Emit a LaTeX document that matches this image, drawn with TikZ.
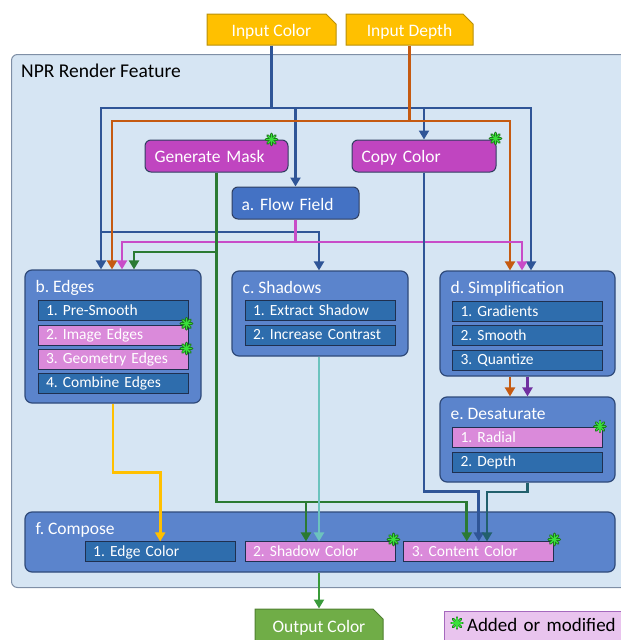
\documentclass[tikz,border=0pt]{standalone}
\usepackage{fontspec}
\setmainfont{Carlito}
\usetikzlibrary{arrows.meta,positioning,calc,shapes.misc}

\definecolor{srcfill}{HTML}{FFC000}
\definecolor{srcline}{HTML}{B8900A}
\definecolor{nprfill}{HTML}{D6E5F3}
\definecolor{nprline}{HTML}{7F8FA6}
\definecolor{passfill}{HTML}{C045C0}
\definecolor{passline}{HTML}{2F3E60}
\definecolor{flowfill}{HTML}{4472C4}
\definecolor{groupfill}{HTML}{5B84CC}
\definecolor{groupline}{HTML}{2F4A7A}
\definecolor{itemfill}{HTML}{2E6DAD}
\definecolor{itemline}{HTML}{1F3050}
\definecolor{modfill}{HTML}{DA8ADA}
\definecolor{outfill}{HTML}{70AD47}
\definecolor{outedge}{HTML}{4F7F30}
\definecolor{legfill}{HTML}{E9C4EE}
\definecolor{legline}{HTML}{A569BD}
\definecolor{wblue}{HTML}{2F5597}
\definecolor{worange}{HTML}{C55A11}
\definecolor{wmagenta}{HTML}{C84CC8}
\definecolor{wgreen}{HTML}{2B7A33}
\definecolor{wyellow}{HTML}{FFC000}
\definecolor{wteal}{HTML}{6CC3BE}
\definecolor{wdteal}{HTML}{22606C}
\definecolor{wpurple}{HTML}{7030A0}
\definecolor{wout}{HTML}{3A9B3A}
\definecolor{starfill}{HTML}{3AE03A}
\definecolor{starline}{HTML}{1E7A1E}

\tikzset{
frame/.style   = {draw=nprline, fill=nprfill, rounded corners=6pt, line width=1pt, minimum width=640pt, minimum height=533pt},
frametitle/.style = {anchor=base west, xshift=10pt, yshift=-23.3pt, inner sep=0pt, font=\fontsize{19.5}{23}\selectfont},
source/.style  = {chamfered rectangle, chamfered rectangle corners=north east, chamfered rectangle xsep=5pt, chamfered rectangle ysep=5pt, draw=srcline, fill=srcfill, line width=1pt, minimum height=31pt, text=white, text height=13pt, text depth=0pt, font=\fontsize{17.5}{21}\selectfont},
pass/.style    = {draw=passline, fill=passfill, rounded corners=6pt, line width=1pt, minimum height=32pt, inner xsep=9.5pt, align=left, text=white, text height=12.6pt, text depth=0pt, font=\fontsize{17.5}{21}\selectfont},
group/.style   = {draw=groupline, fill=groupfill, rounded corners=7pt, line width=1.2pt},
gtitle/.style  = {anchor=base west, xshift=11pt, yshift=-23.5pt, inner sep=0pt, text=white, font=\fontsize{17.5}{21}\selectfont},
item/.style    = {draw=itemline, fill=itemfill, rectangle, line width=.8pt, minimum width=150pt, minimum height=20pt, text width=134pt, inner xsep=8pt, inner ysep=0pt, align=left, text=white, text height=9.4pt, text depth=0pt, font=\fontsize{15.5}{18}\selectfont},
moditem/.style = {item, fill=modfill},
legend/.style  = {draw=legline, fill=legfill, line width=1pt, minimum width=200pt, minimum height=32pt, text width=170pt, inner xsep=22.5pt, align=left, text height=7.4pt, text depth=0pt, font=\fontsize{19}{23}\selectfont},
wire/.style    = {line width=2.8pt},
cwire/.style   = {wire, draw=wblue},
dwire/.style   = {wire, draw=worange},
fwire/.style   = {wire, draw=wmagenta},
mwire/.style   = {wire, draw=wgreen},
ywire/.style   = {wire, draw=wyellow},
swire/.style   = {wire, draw=wteal},
twire/.style   = {wire, draw=wdteal},
pwire/.style   = {wire, draw=wpurple},
owire/.style   = {wire, draw=wout},
modstar/.pic   = {
  \foreach \a in {0,45,90,135} \draw[line width=2.8pt, starline, line cap=round] (\a:5.5pt) -- (\a+180:5.5pt);
  \foreach \a in {0,45,90,135} \draw[line width=1.3pt, starfill, line cap=round] (\a:5pt) -- (\a+180:5pt);
}
}

\begin{document}
\frenchspacing
\begin{tikzpicture}[x=1pt, y=-1pt, >={Triangle[width=10pt,length=9pt]}]
  \useasboundingbox (0,0) rectangle (621,640);
  \clip (0,0) rectangle (621,640);

  % frame and inputs
  \node [frame, anchor=north west, label={[frametitle]north west:NPR Render Feature}] (npr) at (11,54) {};
  \node [source, minimum width=129pt] (incolor) at (271.5,29.5) {Input Color};
  \node [source, minimum width=127pt] (indepth) at (409.5,29.5) {Input Depth};

  % passes
  \node [pass, text width=124pt] (mask) at (216.5,156) {Generate Mask};
  \node [pass, text width=125pt] (copy) at (424,156) {Copy Color};
  \node [pass, fill=flowfill, text width=108pt, text height=14pt] (flow) at (295.5,203) {a. Flow Field};

  % b. edges
  \node [group, minimum width=176pt, minimum height=133pt, label={[gtitle]north west:b. Edges}] (edges) at (113,336.5) {};
  \node [item, below=31pt of edges.north]        (presmooth) {1. Pre-Smooth};
  \node [moditem, below=3.5pt of presmooth]      (imgedges)  {2. Image Edges};
  \node [moditem, below=3pt of imgedges]         (geoedges)  {3. Geometry Edges};
  \node [item, below=3.5pt of geoedges]          (combine)   {4. Combine Edges};

  % c. shadows
  \node [group, minimum width=176pt, minimum height=85pt, label={[gtitle]north west:c. Shadows}] (shadows) at (320,313.5) {};
  \node [item, below=30pt of shadows.north]      (extract)   {1. Extract Shadow};
  \node [item, below=3.5pt of extract]           (contrast)  {2. Increase Contrast};

  % d. simplification
  \node [group, minimum width=175pt, minimum height=105pt, label={[gtitle]north west:d. Simplification}] (simp) at (527.5,323.5) {};
  \node [item, below=30.5pt of simp.north]       (gradients) {1. Gradients};
  \node [item, below=3.5pt of gradients]         (smooth)    {2. Smooth};
  \node [item, below=3.5pt of smooth]            (quantize)  {3. Quantize};

  % e. desaturate
  \node [group, minimum width=175pt, minimum height=85pt, label={[gtitle]north west:e. Desaturate}] (desat) at (527.5,439.5) {};
  \node [moditem, below=31pt of desat.north]     (radial)    {1. Radial};
  \node [item, below=3.5pt of radial]            (depth)     {2. Depth};

  % f. compose
  \node [group, minimum width=590pt, minimum height=60pt, label={[gtitle]north west:f. Compose}] (compose) at (320,542) {};
  \node [moditem, below=30pt of compose.north]   (shcol)     {2. Shadow Color};
  \node [item, left=9pt of shcol]                (edgecol)   {1. Edge Color};
  \node [moditem, right=8pt of shcol]            (content)   {3. Content Color};

  % output and legend
  \node [source, fill=outfill, draw=outedge, minimum width=128pt, minimum height=36pt, text height=10.6pt] (output) at (319,627) {Output Color};
  \node [legend, anchor=north west] (legend) at (444,611) {Added or modified};

  % input color
  \coordinate (cbusL) at (101,108);
  \coordinate (cbusR) at (531,108);
  \coordinate (cshad) at (101,232);
  \draw [cwire,->] (incolor.south) |- (cbusL) -- (cbusL |- edges.north);
  \draw [cwire,->] (incolor.south |- cbusR) -- (cbusR) -- (cbusR |- simp.north);
  \draw [cwire,->] (flow.north |- cbusL) -- (flow.north);
  \draw [cwire,->] (copy.north |- cbusL) -- (copy.north);
  \draw [cwire,->] (cshad) -| ($(shadows.north)+(-1,0)$);

  % input depth
  \coordinate (dbusL) at (112,121);
  \coordinate (dbusR) at (510,121);
  \draw [dwire,->] (indepth.south) |- (dbusL) -- (dbusL |- edges.north);
  \draw [dwire,->] (indepth.south |- dbusR) -- (dbusR) -- (dbusR |- simp.north);
  \draw [dwire,->] (simp.south -| dbusR) -- (desat.north -| dbusR);

  % flow field
  \coordinate (fbusL) at (122,242);
  \coordinate (fbusR) at (522,242);
  \draw [fwire,->] (flow.south) |- (fbusL) -- (fbusL |- edges.north);
  \draw [fwire,->] (flow.south |- fbusR) -- (fbusR) -- (fbusR |- simp.north);
  \draw [pwire,->] (simp.south) -- (desat.north);

  % mask
  \coordinate (medge) at (134,252);
  \coordinate (mbus) at (306,502);
  \draw [mwire,->] (mask.south) |- (medge) -- (medge |- edges.north);
  \draw [mwire,->] (mask.south) |- (mbus) -- (mbus |- shcol.north);
  \draw [mwire,->] (mbus) -| ($(content.north)+(-12,0)$);

  % into compose
  \draw [ywire,->] (edges.south) -- ++(0,69) -| (edgecol.north);
  \draw [swire,->] ($(shadows.south)+(-1,0)$) -- ($(shcol.north)+(-1,0)$);
  \draw [cwire,->] (copy.south) |- ($(content.north)+(0,-50)$) -- (content.north);
  \coordinate (tbend) at (487,492);
  \draw [twire,->] (desat.south) |- (tbend) -- (tbend |- content.north);
  \draw [owire,->] (output.north |- compose.south) -- (output.north);

  % added or modified
  \pic at ($(mask.north east)+(-17,0)$) {modstar};
  \pic at ($(copy.north east)+(-1,-1)$) {modstar};
  \pic at ($(imgedges.north east)+(-2,-1)$) {modstar};
  \pic at ($(geoedges.north east)+(-2,0)$) {modstar};
  \pic at ($(radial.north east)+(-3,-1)$) {modstar};
  \pic at ($(shcol.north east)+(-2,-2)$) {modstar};
  \pic at ($(content.north east)+(0,-2)$) {modstar};
  \pic at ($(legend.north west)+(13,12)$) {modstar};
\end{tikzpicture}
\end{document}
